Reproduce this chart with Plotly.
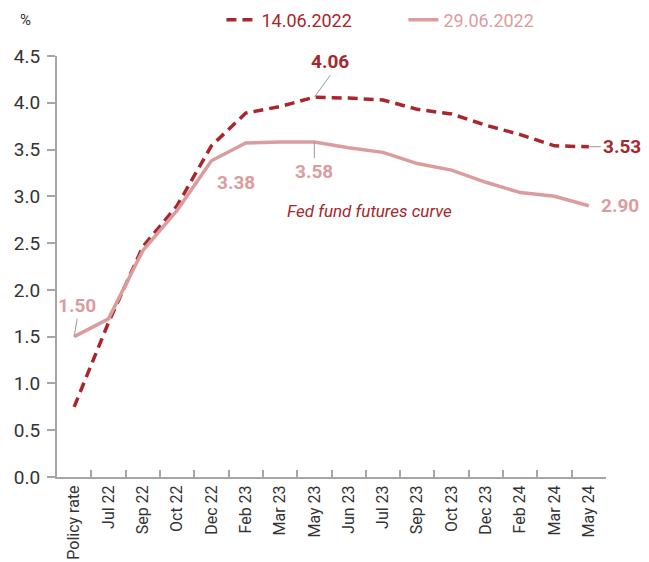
import plotly.graph_objects as go

categories = ["Policy rate", "Jul 22", "Sep 22", "Oct 22", "Dec 22", "Feb 23", "Mar 23", "May 23",
              "Jun 23", "Jul 23", "Sep 23", "Oct 23", "Dec 23", "Feb 24", "Mar 24", "May 24"]
s_1406 = [0.75, 1.65, 2.46, 2.90, 3.54, 3.89, 3.96, 4.06, 4.05, 4.03, 3.93, 3.88, 3.76, 3.66, 3.54, 3.53]
s_2906 = [1.50, 1.69, 2.42, 2.85, 3.38, 3.57, 3.58, 3.58, 3.52, 3.47, 3.35, 3.28, 3.15, 3.04, 3.00, 2.90]
y_ticks = [0.0, 0.5, 1.0, 1.5, 2.0, 2.5, 3.0, 3.5, 4.0, 4.5]

DARK = "#A8262C"
PINK = "#DB9C9E"
AX = "#A6A6A6"
FONT = "Roboto, sans-serif"

fig = go.Figure()
fig.add_trace(go.Scatter(x=categories, y=s_1406, name=f"<span style='color:{DARK}'>14.06.2022</span>",
                         mode="lines", line=dict(color=DARK, width=3.5, dash="10px,6px")))
fig.add_trace(go.Scatter(x=categories, y=s_2906, name=f"<span style='color:{PINK}'>29.06.2022</span>",
                         mode="lines", line=dict(color=PINK, width=3.5)))

AC = "#9A9A9A"
fig.add_annotation(x=categories[7], y=s_1406[7], text="<b>4.06</b>", showarrow=True,
                   ax=16, ay=-22, arrowhead=0, arrowwidth=1, arrowcolor=AC,
                   font=dict(family=FONT, size=19, color=DARK), yanchor="bottom", xanchor="center")
fig.add_annotation(x=categories[7], y=s_2906[7], text="<b>3.58</b>", showarrow=True,
                   ax=0, ay=16, arrowhead=0, arrowwidth=1, arrowcolor=AC,
                   font=dict(family=FONT, size=19, color=PINK), yanchor="top", xanchor="center")
fig.add_annotation(x=categories[4], y=s_2906[4], text="<b>3.38</b>", showarrow=False,
                   xshift=25, yshift=-22, font=dict(family=FONT, size=19, color=PINK))
fig.add_annotation(x=categories[0], y=s_2906[0], text="<b>1.50</b>", showarrow=True,
                   ax=3, ay=-18, arrowhead=0, arrowwidth=1, arrowcolor=AC,
                   font=dict(family=FONT, size=19, color=PINK), yanchor="bottom", xanchor="center")
fig.add_annotation(x=categories[15], y=s_1406[15], text="<b>3.53</b>", showarrow=True,
                   ax=12, ay=0, arrowhead=0, arrowwidth=1, arrowcolor=AC,
                   font=dict(family=FONT, size=19, color=DARK), xanchor="left", yanchor="middle")
fig.add_annotation(x=categories[15], y=s_2906[15], text="<b>2.90</b>", showarrow=False,
                   xanchor="left", xshift=10, font=dict(family=FONT, size=19, color=PINK))
fig.add_annotation(x=categories[9], y=2.84, text="<i>Fed fund futures curve</i>", showarrow=False,
                   xshift=-13, font=dict(family=FONT, size=17, color=DARK))
fig.add_annotation(xref="paper", yref="paper", x=-0.058, y=1.0855, text="%", showarrow=False,
                   font=dict(family=FONT, size=15, color="#333333"), xanchor="center", yanchor="middle")

fig.update_layout(
    width=649, height=562,
    margin=dict(l=49, r=51, t=48, b=93, autoexpand=False),
    plot_bgcolor="white", paper_bgcolor="white",
    font=dict(family=FONT, color="#333333"),
    showlegend=True,
    legend=dict(orientation="h", x=0.631, xanchor="center", y=1.0855, yanchor="middle",
                font=dict(family=FONT, size=18), bgcolor="rgba(0,0,0,0)", entrywidth=137),
    xaxis=dict(type="category", range=[-0.5, 15.5], tickson="boundaries", ticks="inside",
               ticklen=7, tickcolor=AX, tickwidth=1.5, showline=True, linecolor=AX, linewidth=2,
               showgrid=False, tickangle=-90, tickfont=dict(family=FONT, size=16, color="#333333"),
               zeroline=False, automargin=False),
    yaxis=dict(range=[0, 4.5], tickvals=y_ticks, tickformat=".1f", ticks="outside", ticklen=8,
               tickcolor=AX, tickwidth=1.5, showline=True, linecolor=AX, linewidth=2, showgrid=False,
               zeroline=False, automargin=False, ticklabelstandoff=3,
               tickfont=dict(family=FONT, size=19, color="#333333")),
)

fig.write_html("out.html")
